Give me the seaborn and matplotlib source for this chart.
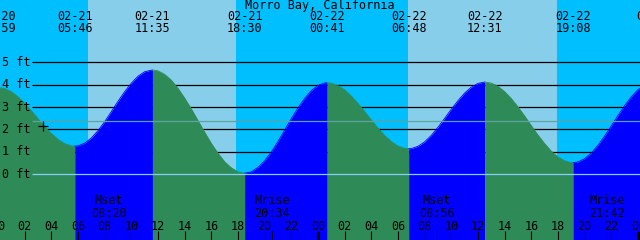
import numpy as np
import pandas as pd
import matplotlib
matplotlib.use("Agg")
import matplotlib.pyplot as plt
import matplotlib.transforms as mtransforms
import seaborn as sns

# ---------------- data ----------------
title = "Morro Bay, California"

# tide curve samples: hours after 02-21 00:00, height in ft
curve_hours = [-0.017, 0, 0.5, 1, 1.5, 2, 2.5, 3, 3.5, 4, 4.5, 5, 5.5, 5.767,
               6, 6.5, 7, 7.5, 8, 8.5, 9, 9.5, 10, 10.5, 11, 11.583,
               12, 12.5, 13, 13.5, 14, 14.5, 15, 15.5, 16, 16.5, 17, 17.5, 18, 18.5,
               19, 19.5, 20, 20.5, 21, 21.5, 22, 22.5, 23, 23.5, 24, 24.5, 24.683,
               25, 25.5, 26, 26.5, 27, 27.5, 28, 28.5, 29, 29.5, 30, 30.5, 30.8,
               31, 31.5, 32, 32.5, 33, 33.5, 34, 34.5, 35, 35.5, 36, 36.517,
               37, 37.5, 38, 38.5, 39, 39.5, 40, 40.5, 41, 41.5, 42, 42.5, 43, 43.133,
               43.5, 44, 44.5, 45, 45.5, 46, 46.5, 47, 47.5, 48, 48.5, 49, 49.17]
curve_heights = [3.88, 3.88, 3.83, 3.69, 3.46, 3.17, 2.84, 2.48, 2.13, 1.82, 1.56, 1.37, 1.27, 1.26,
                 1.27, 1.39, 1.62, 1.95, 2.35, 2.80, 3.26, 3.69, 4.07, 4.38, 4.58, 4.66,
                 4.62, 4.46, 4.20, 3.84, 3.40, 2.92, 2.40, 1.88, 1.38, 0.94, 0.56, 0.29, 0.11, 0.05,
                 0.11, 0.31, 0.61, 1.00, 1.47, 1.98, 2.49, 2.97, 3.39, 3.74, 3.97, 4.08, 4.09,
                 4.07, 3.96, 3.77, 3.49, 3.16, 2.80, 2.42, 2.06, 1.73, 1.46, 1.26, 1.16, 1.14,
                 1.15, 1.25, 1.45, 1.74, 2.10, 2.50, 2.91, 3.29, 3.63, 3.89, 4.06, 4.12,
                 4.07, 3.93, 3.69, 3.38, 3.01, 2.60, 2.17, 1.75, 1.37, 1.03, 0.77, 0.60, 0.52, 0.52,
                 0.55, 0.70, 0.95, 1.30, 1.71, 2.17, 2.63, 3.07, 3.46, 3.78, 3.99, 4.09, 4.10]

# tide events (high / low)
event_hours = [-0.017, 5.767, 11.583, 18.5, 24.683, 30.8, 36.517, 43.133, 49.17]
event_heights = [3.88, 1.26, 4.66, 0.05, 4.09, 1.14, 4.12, 0.52, 4.10]
event_dates = ["02-20", "02-21", "02-21", "02-21", "02-22", "02-22", "02-22", "02-22", "02-23"]
event_times = ["23:59", "05:46", "11:35", "18:30", "00:41", "06:48", "12:31", "19:08", ""]

# daylight
day_start = [6.75, 30.75]
day_end = [17.85, 41.93]

# moon events
moon_hours = [8.333, 20.567, 32.933, 45.7]
moon_names = ["Mset", "Mrise", "Mset", "Mrise"]
moon_times = ["08:20", "20:34", "08:56", "21:42"]

hour_ticks = list(range(0, 49, 2))
hour_labels = ["%02d" % (h % 24) for h in hour_ticks]
ft_levels = [1, 2, 3, 4, 5]
ft_labels = ["0 ft", "1 ft", "2 ft", "3 ft", "4 ft", "5 ft"]
ft_label_levels = [0, 1, 2, 3, 4, 5]
mean_level = 2.4
datum_level = 0.0
mark_hour, mark_height = 3.375, 2.16

# ---------------- style ----------------
NIGHT = "#00BFFF"
DAY = "#87CEEB"
RISE = "#0000FF"
FALL = "#2E8B57"

sns.set_theme(style="white")
plt.rcParams["font.family"] = ["DejaVu Sans Mono"]
FS = 8.5

fig = plt.figure(figsize=(6.4, 2.4), dpi=100, facecolor=NIGHT)
ax = fig.add_axes([0, 0, 1, 1])
XMIN, XMAX = 0.15, 48.15
YMIN, YMAX = -2.933, 7.781

trans = mtransforms.blended_transform_factory(ax.transData, fig.transFigure)
def fy(py):
    return 1 - py / 240.0

# background day spans
for s, e in zip(day_start, day_end):
    ax.axvspan(s, e, color=DAY, lw=0, zorder=0)

# ft lines (under tide fill)
x_line0 = XMIN + 32 / 13.333
ax.hlines(ft_levels, x_line0, XMAX, color="black", lw=0.9, zorder=1)

# tide fill: blue while rising, green while falling
df = pd.DataFrame({"hour": curve_hours, "ft": curve_heights})
for i in range(len(event_hours) - 1):
    a, b = event_hours[i], event_hours[i + 1]
    col = RISE if event_heights[i + 1] > event_heights[i] else FALL
    seg = df[(df.hour >= a) & (df.hour <= b)]
    ax.fill_between(seg.hour, seg.ft, YMIN, color=col, lw=0, zorder=2)
    sns.lineplot(data=seg, x="hour", y="ft", ax=ax, color=col, lw=0.6,
                 zorder=2, legend=False, sort=True)

ax.set_xlim(XMIN, XMAX)
ax.set_ylim(YMIN, YMAX)
ax.axis("off")

# mean and datum lines (on top)
ax.hlines([mean_level], x_line0, XMAX, color="#5FA3A0", lw=0.9, zorder=3)
ax.hlines([datum_level], x_line0, XMAX, color="#87CEFA", lw=0.9, zorder=3)

# ft labels
for lv, lab in zip(ft_label_levels, ft_labels):
    ax.text(XMIN + 2 / 13.333, lv, lab, ha="left", va="center", fontsize=FS,
            color="black", zorder=5)

# mark
ax.plot([mark_hour], [mark_height], marker="+", color="black", ms=7, mew=0.9, zorder=5)

# title
ax.text(24.15, fy(5.5), title, transform=trans, ha="center", va="center",
        fontsize=FS, color="black", zorder=5)

# event labels
for h, d, t in zip(event_hours, event_dates, event_times):
    ax.text(h, fy(17), d, transform=trans, ha="center", va="center",
            fontsize=FS, color="black", zorder=5)
    if t:
        ax.text(h, fy(29), t, transform=trans, ha="center", va="center",
                fontsize=FS, color="black", zorder=5)

# moon labels
for h, n, t in zip(moon_hours, moon_names, moon_times):
    ax.text(h, fy(201), n, transform=trans, ha="center", va="center",
            fontsize=FS, color="black", zorder=5)
    ax.text(h, fy(213.5), t, transform=trans, ha="center", va="center",
            fontsize=FS, color="black", zorder=5)

# hour labels and ticks
for h, lab in zip(hour_ticks, hour_labels):
    ax.text(h, fy(226), lab, transform=trans, ha="center", va="center",
            fontsize=FS, color="black", zorder=5)
ax.vlines(hour_ticks, fy(231), fy(240), transform=trans, color="black", lw=0.8, zorder=4)
ax.vlines(moon_hours, fy(231), fy(240), transform=trans, color="black", lw=0.6, zorder=4)
midnights = [h for h in hour_ticks if h % 24 == 0]
ax.vlines(midnights, fy(232), fy(240), transform=trans, color="black", lw=2.2, zorder=4)

fig.savefig("out.png", dpi=100, facecolor=NIGHT)
